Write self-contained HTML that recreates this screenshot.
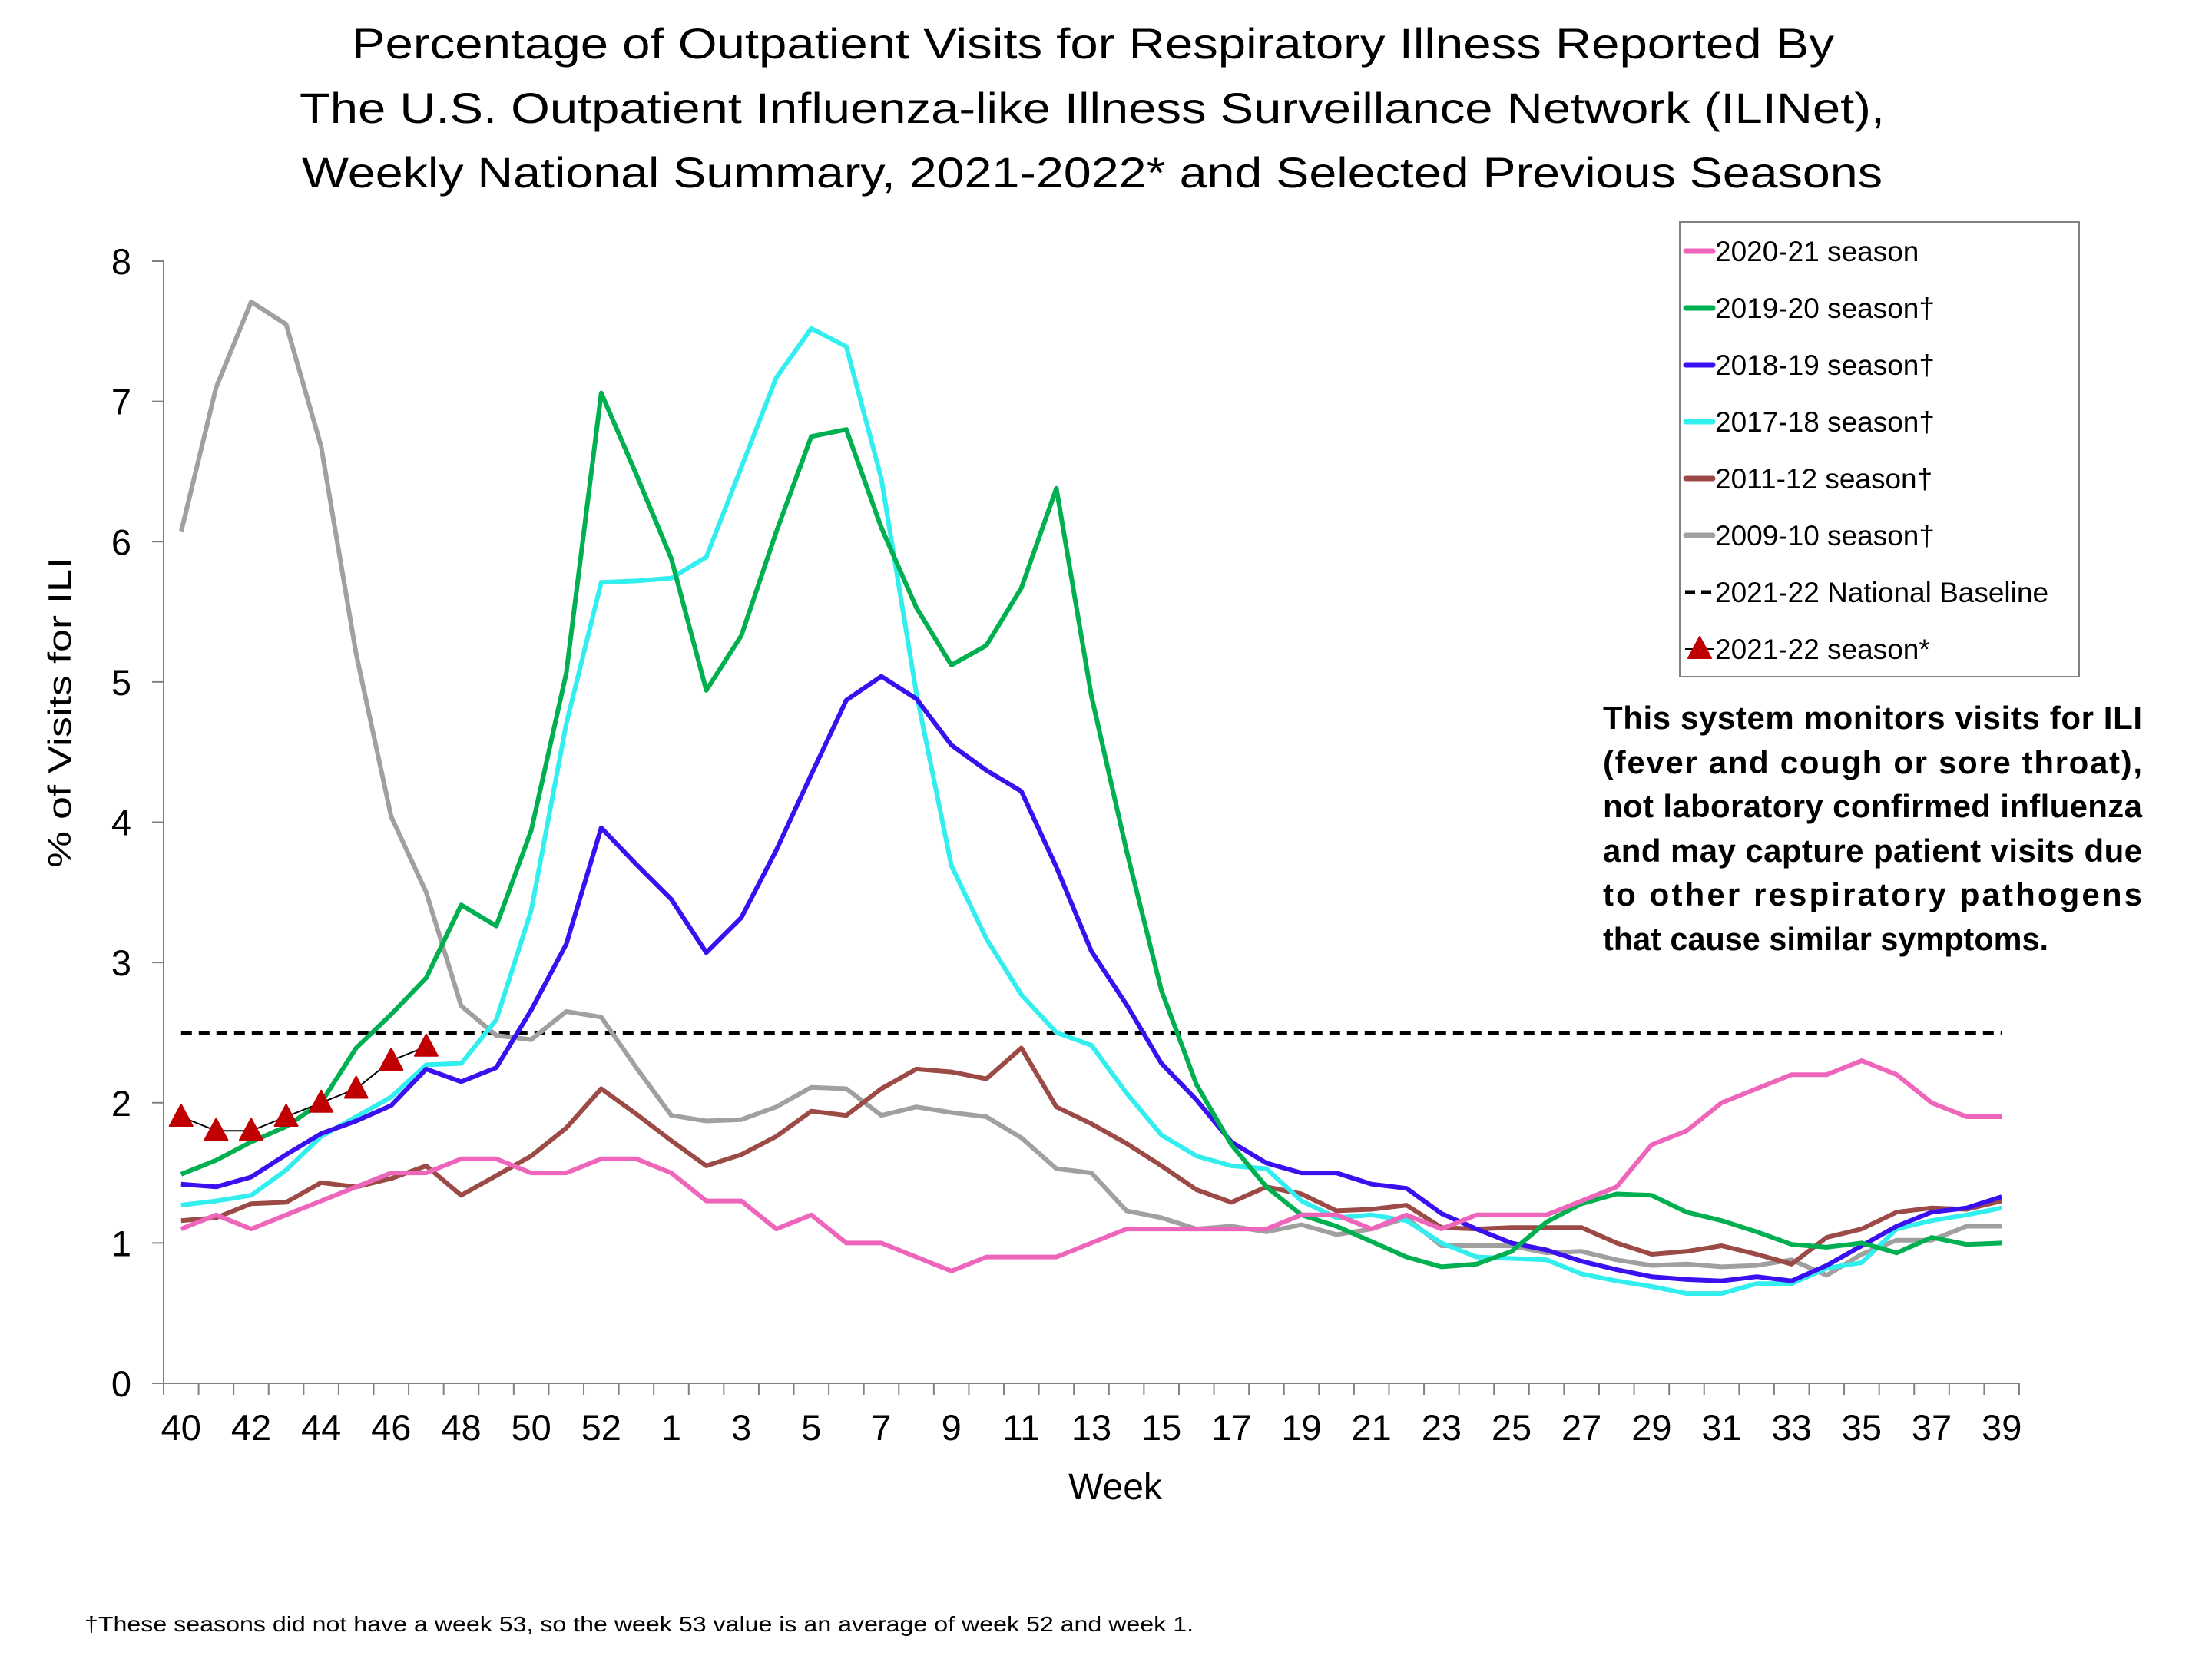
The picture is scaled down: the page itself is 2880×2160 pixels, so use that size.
<!DOCTYPE html>
<html><head><meta charset="utf-8"><style>
html,body{margin:0;padding:0;background:#fff;}
svg{display:block;font-family:"Liberation Sans",sans-serif;}
</style></head><body>
<svg id="chart" width="2880" height="2160" viewBox="0 0 2880 2160" xmlns="http://www.w3.org/2000/svg">
<g font-size="56" text-anchor="middle" fill="#000">
<text x="1423" y="76" textLength="1930" lengthAdjust="spacingAndGlyphs">Percentage of Outpatient Visits for Respiratory Illness Reported By</text>
<text x="1422" y="160" textLength="2064" lengthAdjust="spacingAndGlyphs">The U.S. Outpatient Influenza-like Illness Surveillance Network (ILINet),</text>
<text x="1422" y="244" textLength="2058" lengthAdjust="spacingAndGlyphs">Weekly National Summary, 2021-2022* and Selected Previous Seasons</text>
</g>
<g id="axes"></g>
<g id="series"></g>
<text transform="translate(92,928) rotate(-90)" font-size="42" text-anchor="middle" textLength="404" lengthAdjust="spacingAndGlyphs">% of Visits for ILI</text>
<text x="1452" y="1952" font-size="48" text-anchor="middle">Week</text>
<g>
<rect x="2187" y="289" width="520" height="592" fill="#fff" stroke="#808080" stroke-width="2"/>
<g id="legend-items"></g>
</g>
<g font-size="42" font-weight="bold" fill="#000">
<text x="2087" y="949" textLength="702" lengthAdjust="spacing">This system monitors visits for ILI</text>
<text x="2087" y="1007" textLength="702" lengthAdjust="spacing">(fever and cough or sore throat),</text>
<text x="2087" y="1064" textLength="702" lengthAdjust="spacing">not laboratory confirmed influenza</text>
<text x="2087" y="1122" textLength="702" lengthAdjust="spacing">and may capture patient visits due</text>
<text x="2087" y="1179" textLength="702" lengthAdjust="spacing">to other respiratory pathogens</text>
<text x="2087" y="1237" textLength="580" lengthAdjust="spacingAndGlyphs">that cause similar symptoms.</text>
</g>
<text x="110" y="2124" font-size="28" textLength="1444" lengthAdjust="spacingAndGlyphs">†These seasons did not have a week 53, so the week 53 value is an average of week 52 and week 1.</text>
</svg>
<script>
const weeks = [40,41,42,43,44,45,46,47,48,49,50,51,52,53,1,2,3,4,5,6,7,8,9,10,11,12,13,14,15,16,17,18,19,20,21,22,23,24,25,26,27,28,29,30,31,32,33,34,35,36,37,38,39];
const yTicks = [0,1,2,3,4,5,6,7,8];
const s2020 = [1.1,1.2,1.1,1.2,1.3,1.4,1.5,1.5,1.6,1.6,1.5,1.5,1.6,1.6,1.5,1.3,1.3,1.1,1.2,1.0,1.0,0.9,0.8,0.9,0.9,0.9,1.0,1.1,1.1,1.1,1.1,1.1,1.2,1.2,1.1,1.2,1.1,1.2,1.2,1.2,1.3,1.4,1.7,1.8,2.0,2.1,2.2,2.2,2.3,2.2,2.0,1.9,1.9];
const s2019 = [1.49,1.59,1.72,1.83,2.0,2.39,2.63,2.89,3.41,3.26,3.94,5.06,7.06,6.48,5.88,4.94,5.33,6.07,6.75,6.8,6.1,5.53,5.12,5.26,5.67,6.38,4.9,3.8,2.8,2.13,1.7,1.4,1.2,1.12,1.01,0.9,0.83,0.85,0.94,1.15,1.28,1.35,1.34,1.22,1.16,1.08,0.99,0.97,1.0,0.93,1.04,0.99,1.0];
const s2018 = [1.42,1.4,1.47,1.63,1.78,1.87,1.98,2.24,2.15,2.25,2.66,3.13,3.96,3.7,3.45,3.07,3.32,3.8,4.34,4.87,5.04,4.88,4.55,4.37,4.22,3.68,3.08,2.7,2.28,2.02,1.72,1.57,1.5,1.5,1.42,1.39,1.21,1.1,1.0,0.95,0.87,0.81,0.76,0.74,0.73,0.76,0.73,0.84,0.98,1.12,1.22,1.25,1.33];
const s2017 = [1.27,1.3,1.34,1.52,1.76,1.9,2.04,2.27,2.28,2.59,3.37,4.7,5.71,5.72,5.74,5.89,6.53,7.17,7.52,7.39,6.45,4.92,3.69,3.17,2.77,2.5,2.41,2.07,1.77,1.62,1.55,1.53,1.3,1.18,1.2,1.16,1.0,0.9,0.89,0.88,0.78,0.73,0.69,0.64,0.64,0.71,0.71,0.82,0.86,1.1,1.16,1.2,1.25];
const s2011 = [1.16,1.18,1.28,1.29,1.43,1.4,1.46,1.55,1.34,1.48,1.62,1.82,2.1,1.92,1.73,1.55,1.63,1.76,1.94,1.91,2.1,2.24,2.22,2.17,2.39,1.97,1.85,1.71,1.55,1.38,1.29,1.4,1.35,1.23,1.24,1.27,1.11,1.1,1.11,1.11,1.11,1.0,0.92,0.94,0.98,0.92,0.85,1.04,1.1,1.22,1.25,1.24,1.3];
const s2009 = [6.07,7.1,7.71,7.55,6.68,5.2,4.04,3.5,2.69,2.48,2.45,2.65,2.61,2.25,1.91,1.87,1.88,1.97,2.11,2.1,1.91,1.97,1.93,1.9,1.75,1.53,1.5,1.23,1.18,1.1,1.12,1.08,1.13,1.06,1.1,1.18,0.98,0.98,0.98,0.93,0.94,0.88,0.84,0.85,0.83,0.84,0.88,0.77,0.92,1.02,1.02,1.12,1.12];
const s2021 = [1.9,1.8,1.8,1.9,2.0,2.1,2.3,2.4];
const baseline = 2.5;
const seriesNames = ["2020-21 season","2019-20 season†","2018-19 season†","2017-18 season†","2011-12 season†","2009-10 season†","2021-22 National Baseline","2021-22 season*"];

const NS = "http://www.w3.org/2000/svg";
const X0 = 213, X1 = 2629, Y0 = 1801, Y1 = 340, YMAX = 8;
const cw = (X1 - X0) / weeks.length;
function xPos(i){ return X0 + cw * (i + 0.5); }
function yPos(v){ return Y0 - (v / YMAX) * (Y0 - Y1); }
function mk(tag, attrs, parent){ const e = document.createElementNS(NS, tag); for (const k in attrs) e.setAttribute(k, attrs[k]); parent.appendChild(e); return e; }

const axes = document.getElementById('axes');
let yl = mk('line', {x1:X0, y1:Y0, x2:X0, y2:Y1, stroke:'#808080', 'stroke-width':2}, axes);


let xl = mk('line', {x1:X0, y1:Y0, x2:X1, y2:Y0, stroke:'#808080', 'stroke-width':2}, axes);


yTicks.forEach(t => {
  const y = yPos(t);
  const tk = mk('line', {x1:X0-15, y1:y, x2:X0, y2:y, stroke:'#808080', 'stroke-width':2}, axes);
  
  
  const tx = mk('text', {x:171, y:y+17, 'font-size':47, 'text-anchor':'end'}, axes);
  
  
  tx.textContent = t;
});
for (let i = 0; i <= weeks.length; i++) {
  const x = X0 + cw * i;
  const tk = mk('line', {x1:x, y1:Y0, x2:x, y2:Y0+15, stroke:'#808080', 'stroke-width':2}, axes);
  
  
}
weeks.forEach((w, i) => {
  if (i % 2 !== 0) return;
  const tx = mk('text', {x:xPos(i), y:1875, 'font-size':47, 'text-anchor':'middle'}, axes);
  
  
  tx.textContent = w;
});

const layer = document.getElementById('series');
const bl = mk('line', {x1:xPos(0), y1:yPos(baseline), x2:xPos(weeks.length-1), y2:yPos(baseline), stroke:'#000', 'stroke-width':5, 'stroke-dasharray':'14 9'}, layer);



const lines = [
  [s2009, '#A0A0A0', 'line-2009-10'],
  [s2011, '#9B4A45', 'line-2011-12'],
  [s2017, '#33EEEE', 'line-2017-18'],
  [s2018, '#3A10F0', 'line-2018-19'],
  [s2019, '#00B050', 'line-2019-20'],
  [s2020, '#EE66BB', 'line-2020-21']
];
lines.forEach(([data, col, name]) => {
  const pts = data.map((v, i) => xPos(i).toFixed(1) + ',' + yPos(v).toFixed(1)).join(' ');
  const p = mk('polyline', {points:pts, fill:'none', stroke:col, 'stroke-width':6, 'stroke-linejoin':'round'}, layer);
  
  
});
const cur = mk('polyline', {points:s2021.map((v,i)=>xPos(i).toFixed(1)+','+yPos(v).toFixed(1)).join(' '), fill:'none', stroke:'#000', 'stroke-width':2}, layer);


function tri(cx, cy, parent){
  return mk('polygon', {points:`${cx},${cy-16} ${cx+15},${cy+12} ${cx-15},${cy+12}`, fill:'#C00000', stroke:'#C00000', 'stroke-width':2, 'stroke-linejoin':'round'}, parent);
}
s2021.forEach((v, i) => {
  const t = tri(xPos(i), yPos(v), layer);
  
  
});

const leg = document.getElementById('legend-items');
const legColors = ['#EE66BB','#00B050','#3A10F0','#33EEEE','#9B4A45','#A0A0A0'];
seriesNames.forEach((n, i) => {
  const y = 327 + i * 74;
  const g = mk('g', {}, leg);
  
  
  if (i < 6) mk('line', {x1:2195, y1:y, x2:2230, y2:y, stroke:legColors[i], 'stroke-width':7, 'stroke-linecap':'round'}, g);
  else if (i === 6) mk('line', {x1:2194, y1:y, x2:2232, y2:y, stroke:'#000', 'stroke-width':5, 'stroke-dasharray':'13 8'}, g);
  else { mk('line', {x1:2194, y1:y, x2:2232, y2:y, stroke:'#000', 'stroke-width':2}, g); tri(2213, y, g); }
  const t = mk('text', {x:2233, y:y+13, 'font-size':37}, g);
  t.textContent = n;
});
</script>
</body></html>
